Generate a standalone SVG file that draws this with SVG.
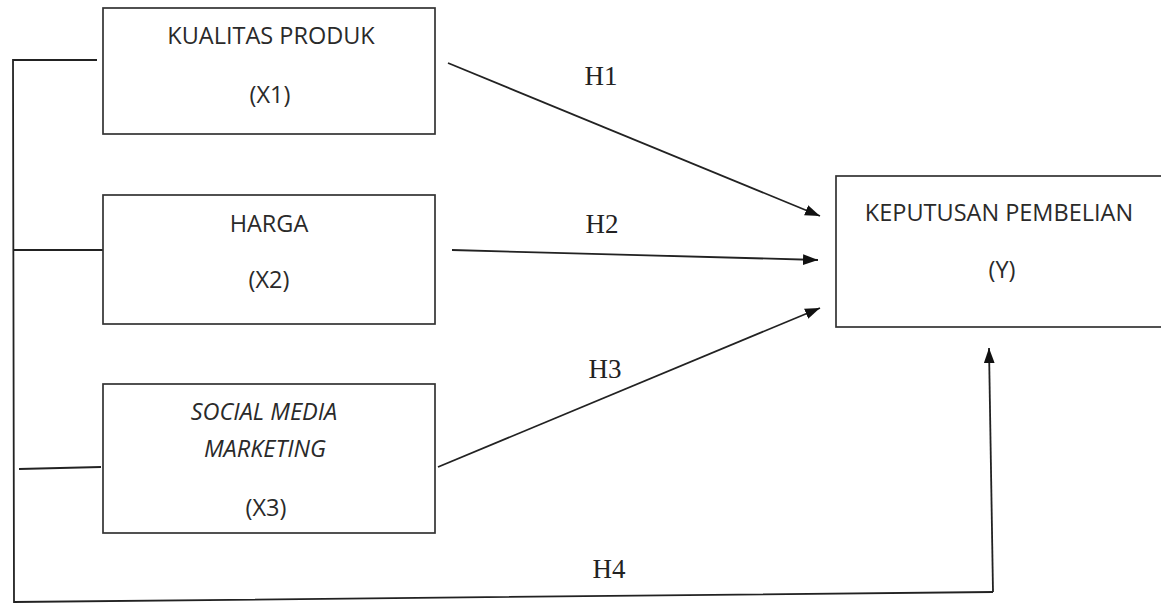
<svg xmlns="http://www.w3.org/2000/svg" width="1161" height="603" viewBox="0 0 1161 603">
<defs>
<style>
.box{fill:#fff;stroke:#333;stroke-width:1.7}
.t{font-family:"Open Sans","Liberation Sans",sans-serif;font-size:23.5px;fill:#2a2a2a;text-anchor:middle}
.i{font-style:italic}
.h{font-family:"Liberation Serif",serif;font-size:27px;fill:#222;text-anchor:middle}
.ln{stroke:#222;stroke-width:1.8;fill:none}
</style>
<marker id="ah2" viewBox="0 0 14 10" refX="14" refY="5" markerWidth="15" markerHeight="11" markerUnits="userSpaceOnUse" orient="auto">
<path d="M0,0 L14,5 L0,10 Z" fill="#111"/>
</marker>
</defs>
<rect width="1161" height="603" fill="#fff"/>
<g id="connectors">
<polyline class="ln" points="97,60 13,60 14,602 993,592"/>
<line class="ln" x1="13" y1="250" x2="105" y2="250"/>
<line class="ln" x1="19" y1="469" x2="101" y2="467"/>
<line class="ln" x1="993" y1="592" x2="989" y2="348" marker-end="url(#ah2)"/>
<line class="ln" x1="448" y1="63" x2="820" y2="216" marker-end="url(#ah2)"/>
<line class="ln" x1="452" y1="250" x2="818" y2="260" marker-end="url(#ah2)"/>
<line class="ln" x1="438" y1="467" x2="820" y2="308" marker-end="url(#ah2)"/>
<text class="h" x="601" y="85">H1</text>
<text class="h" x="602" y="233">H2</text>
<text class="h" x="605" y="378">H3</text>
<text class="h" x="609" y="578">H4</text>
</g>
<g id="x1">
<rect class="box" x="103" y="8" width="332" height="126"/>
<text class="t" x="271" y="44">KUALITAS PRODUK</text>
<text class="t" x="270" y="103">(X1)</text>
</g>
<g id="x2">
<rect class="box" x="103" y="195" width="332" height="129"/>
<text class="t" x="269" y="232">HARGA</text>
<text class="t" x="269" y="288">(X2)</text>
</g>
<g id="x3">
<rect class="box" x="103" y="384" width="332" height="149"/>
<text class="t i" x="264" y="420">SOCIAL MEDIA</text>
<text class="t i" x="265" y="457">MARKETING</text>
<text class="t" x="266" y="516">(X3)</text>
</g>
<g id="y">
<rect class="box" x="836" y="176" width="330" height="151"/>
<text class="t" x="999" y="221">KEPUTUSAN PEMBELIAN</text>
<text class="t" x="1002" y="278">(Y)</text>
</g>
</svg>
